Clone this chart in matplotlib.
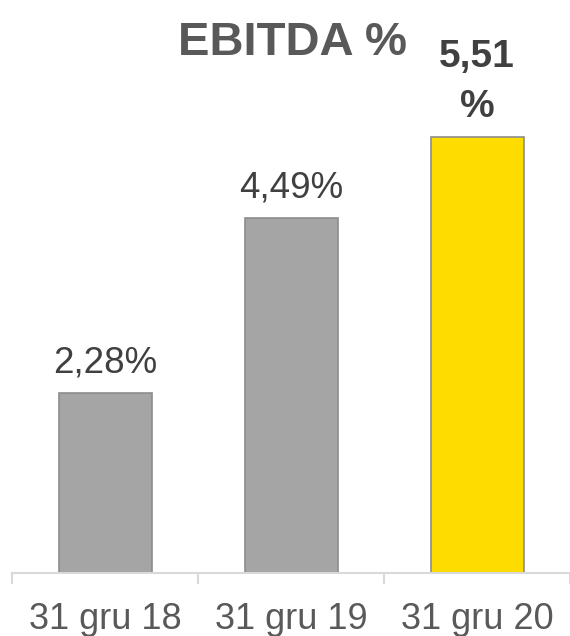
import matplotlib.pyplot as plt

# data
categories = ["31 gru 18", "31 gru 19", "31 gru 20"]
values = [2.28, 4.49, 5.51]
labels = ["2,28%", "4,49%", "5,51\n%"]
colors = ["#a5a5a5", "#a5a5a5", "#ffdc00"]

plt.rcParams['font.family'] = ['Liberation Sans', 'DejaVu Sans']

fig = plt.figure(figsize=(5.7, 6.36), dpi=100)
ax = fig.add_axes([12 / 570, 63 / 636, 558 / 570, 573 / 636])

x = range(len(categories))
ax.bar(x, values, width=0.5, color=colors, edgecolor="#8c8c8c", linewidth=1.2, zorder=2)

ax.set_xlim(-0.5, 2.5)
ax.set_ylim(0, 573 / 79.1)

for i, (v, lab) in enumerate(zip(values, labels)):
    if i == 2:
        ax.annotate(lab, (i, v), xytext=(0, 8.6), textcoords="offset points",
                    ha="center", va="bottom", fontsize=28, fontweight="bold",
                    color="#404040", linespacing=1.5)
    else:
        ax.annotate(lab, (i, v), xytext=(0, 14.4), textcoords="offset points",
                    ha="center", va="baseline", fontsize=26.5, color="#404040")

fig.text(293 / 570, 1 - 55 / 636, "EBITDA %", ha="center", va="baseline",
         fontsize=34, fontweight="bold", color="#595959")

for s in ["top", "right", "left"]:
    ax.spines[s].set_visible(False)
ax.spines["bottom"].set_color("#d9d9d9")
ax.spines["bottom"].set_linewidth(1.5)
ax.set_yticks([])

ax.set_xticks(list(x))
ax.set_xticklabels(categories, fontsize=26, color="#595959")
ax.tick_params(axis="x", which="major", length=0, pad=21)
ax.set_xticks([-0.5, 0.5, 1.5, 2.5], minor=True)
ax.tick_params(axis="x", which="minor", length=8, width=1.5, color="#d9d9d9")

fig.savefig("out.png", dpi=100)
